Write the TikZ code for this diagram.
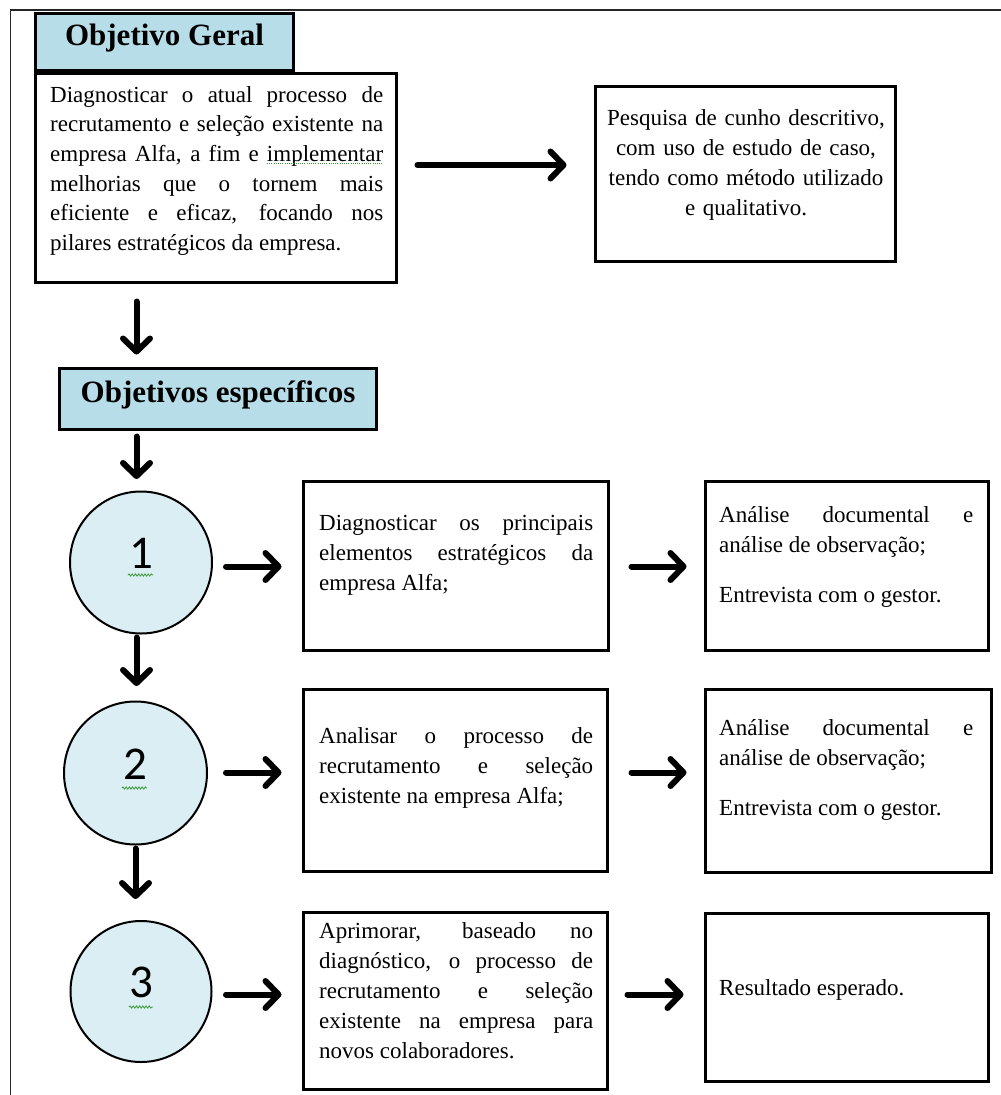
\documentclass[tikz,border=0pt]{standalone}
\usepackage{fontspec}
\setmainfont{Liberation Serif}
\newfontfamily\digitfont{Carlito}
\usetikzlibrary{arrows.meta,calc,decorations.pathmorphing}

\definecolor{hdrblue}{HTML}{B7DDE8}
\definecolor{circblue}{HTML}{DAEEF3}
\definecolor{spellgreen}{HTML}{3C9A3C}

% body text: 23pt serif, forced line ends, no hyphenation
\newcommand\bodysetup{\tolerance=10000\hbadness=10000\hyphenpenalty=10000\exhyphenpenalty=10000\parindent=0pt}
\newcommand\bodyfont{\fontsize{23}{30}\selectfont\bodysetup}
\newcommand\bodyfontG{\fontsize{23}{29.6}\selectfont\bodysetup}

\tikzset{
  frameline/.style={line width=1.5pt, black!85},
  hdrbox/.style={draw, line width=3pt, fill=hdrblue, inner sep=0pt,
    font=\fontsize{31}{36}\selectfont\bfseries, text height=20pt, text depth=14pt},
  txtbox/.style={draw, line width=3pt, fill=white, inner sep=0pt},
  numcirc/.style={circle, draw, line width=2pt, fill=circblue, inner sep=0pt,
    font=\digitfont\fontsize{47}{50}\selectfont, text height=29pt, text depth=17pt},
  bodytext/.style={anchor=north west, inner sep=0pt, align=justify, font=\bodyfont},
  flow/.style={line width=6pt, line cap=round,
    -{Straight Barb[length=13pt,width=27pt,line width'=6pt,round]},
    preaction={draw=black, opacity=.2, transform canvas={shift={(1.5pt,-2.5pt)}}}},
  squiggle/.style={spellgreen, line width=0.8pt, decorate,
    decoration={snake, segment length=3.2pt, amplitude=1.1pt}},
  spelldots/.style={spellgreen, line width=0.9pt, dash pattern=on 1pt off 1.2pt},
}

\begin{document}
\begin{tikzpicture}[x=1pt,y=-1pt]
\useasboundingbox (0,0) rectangle (1001,1095);

% page frame (left and top rules)
\coordinate (fTL) at (10.5,10);
\coordinate (fBL) at (10.5,1095);
\coordinate (fTR) at (1001,10);
\draw[frameline] (fBL) -- (fTL) -- (fTR);

% general objective
\node[hdrbox, minimum width=258pt, minimum height=57pt] (hdrG) at (164.5,42) {Objetivo Geral};
\node[txtbox, minimum width=361pt, minimum height=209pt] (boxG) at (216,178) {};
\node[bodytext, text width=333pt, font=\bodyfontG] (txtG) at (50,81.3)
  {\strut Diagnosticar o atual processo de\linebreak
   recrutamento e seleção existente na\linebreak
   empresa Alfa, a fim e implementar\linebreak
   melhorias que o tornem mais\linebreak
   eficiente e eficaz, focando nos\linebreak
   pilares estratégicos da empresa.};
\coordinate (spA) at (267,163.5);
\coordinate (spB) at (383,163.5);
\draw[spelldots] (spA) -- (spB);

% method box
\node[txtbox, minimum width=300pt, minimum height=175pt] (boxP) at (745.5,174) {};
\node[anchor=north, inner sep=0pt, align=center, text width=300pt, font=\bodyfont] (txtP) at (746,104)
  {\strut Pesquisa de cunho descritivo,\\ com uso de estudo de caso,\\ tendo como método utilizado\\ e qualitativo.};

% specific objectives
\node[hdrbox, minimum width=317pt, minimum height=61pt] (hdrS) at (218,399) {Objetivos específicos};

\node[numcirc, minimum size=142pt] (c1) at (141,562.5) {1};
\node[numcirc, minimum size=143pt] (c2) at (135.5,773) {2};
\node[numcirc, minimum size=141pt] (c3) at (141,991.5) {3};
\draw[squiggle] ($(c1)+(-13,12.5)$) -- ($(c1)+(12,12.5)$);
\draw[squiggle] ($(c2)+(-13.5,15)$) -- ($(c2)+(11.5,15)$);
\draw[squiggle] ($(c3)+(-12,15.5)$) -- ($(c3)+(12,15.5)$);

% row 1
\node[txtbox, minimum width=305pt, minimum height=169pt] (box1) at (456,566) {};
\node[bodytext, text width=274pt] (txt1) at (319,509)
  {\strut Diagnosticar os principais\linebreak
   elementos estratégicos da\linebreak
   empresa Alfa;};
\node[txtbox, minimum width=283pt, minimum height=169pt] (boxR1) at (847,566) {};
\node[bodytext, text width=254pt] (txtR1) at (719,501)
  {\strut Análise documental e\linebreak
   análise de observação;\par\vspace{20pt}
   Entrevista com o gestor.};

% row 2
\node[txtbox, minimum width=304pt, minimum height=182pt] (box2) at (455.5,780.5) {};
\node[bodytext, text width=274pt] (txt2) at (319,722)
  {\strut Analisar o processo de\linebreak
   recrutamento e seleção\linebreak
   existente na empresa Alfa;};
\node[txtbox, minimum width=286pt, minimum height=183pt] (boxR2) at (848.5,781) {};
\node[bodytext, text width=254pt] (txtR2) at (719,714)
  {\strut Análise documental e\linebreak
   análise de observação;\par\vspace{20pt}
   Entrevista com o gestor.};

% row 3
\node[txtbox, minimum width=304pt, minimum height=177pt] (box3) at (455.5,1001) {};
\node[bodytext, text width=274pt] (txt3) at (319,917)
  {\strut Aprimorar, baseado no\linebreak
   diagnóstico, o processo de\linebreak
   recrutamento e seleção\linebreak
   existente na empresa para\linebreak
   novos colaboradores.};
\node[txtbox, minimum width=283pt, minimum height=168pt] (boxR3) at (847,997.5) {};
\node[bodytext, text width=254pt] (txtR3) at (719,974) {\strut Resultado esperado.};

% connectors
\coordinate (vx) at (136.5,0);
\coordinate (gp) at (0,165);
\coordinate (r1) at (0,566.5);
\coordinate (r2) at (0,772.5);
\coordinate (r3) at (0,994.5);

\draw[flow] ($(boxG.east |- gp)+(19.5,0)$) -- ($(boxP.west |- gp)+(-27.5,0)$);

\draw[flow] ($(boxG.south -| vx)+(0,17.5)$) -- ($(hdrS.north -| vx)+(0,-12.5)$);
\draw[flow] ($(hdrS.south -| vx)+(0,5.5)$) -- ($(c1.north -| vx)+(0,-11.5)$);
\draw[flow] ($(c1.south -| vx)+(0,3)$) -- ($(c2.north -| vx)+(0,-14.5)$);
\draw[flow] ($(c2.south -| vx)+(-1,3)$) -- ($(c3.north -| vx)+(-1,-21)$);

\draw[flow] ($(c1.east |- r1)+(13,0)$) -- ($(box1.west |- r1)+(-20.5,0)$);
\draw[flow] ($(box1.east |- r1)+(21.5,0)$) -- ($(boxR1.west |- r1)+(-17.5,0)$);
\draw[flow] ($(c2.east |- r2)+(18,0)$) -- ($(box2.west |- r2)+(-20.5,0)$);
\draw[flow] ($(box2.east |- r2)+(22.5,0)$) -- ($(boxR2.west |- r2)+(-17.5,0)$);
\draw[flow] ($(c3.east |- r3)+(13.5,0)$) -- ($(box3.west |- r3)+(-20.5,0)$);
\draw[flow] ($(box3.east |- r3)+(18.5,0)$) -- ($(boxR3.west |- r3)+(-20.5,0)$);
\end{tikzpicture}
\end{document}
